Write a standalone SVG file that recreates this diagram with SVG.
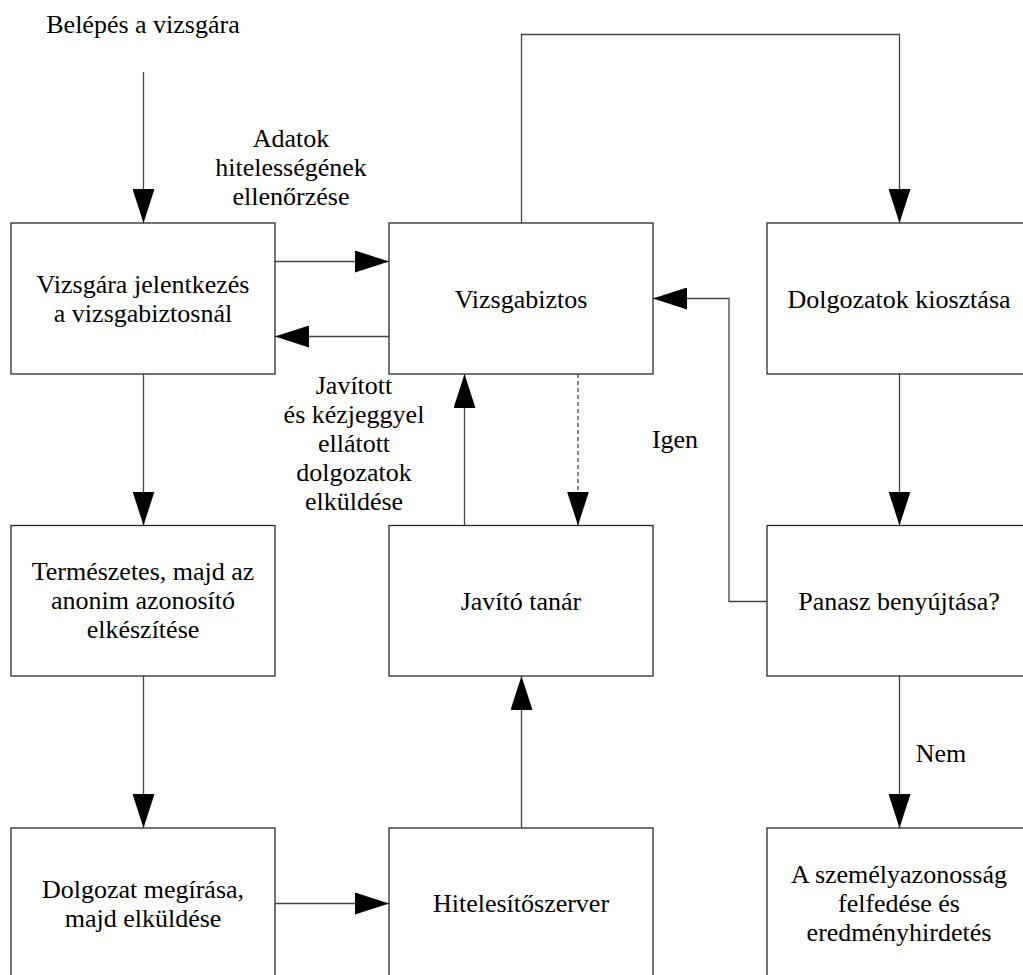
<svg xmlns="http://www.w3.org/2000/svg" width="1023" height="975" viewBox="0 0 1023 975">
  <style>
    .box { fill: #ffffff; stroke: #2a2a2a; stroke-width: 1.3; }
    .lbl { font-family: "Liberation Serif", "Times New Roman", serif; font-size: 26px; fill: #000; text-anchor: middle; }
    .edge { fill: none; stroke: #444; stroke-width: 1.3; marker-end: url(#arrow); }
    .dash { stroke-dasharray: 4 3; }
  </style>
  <defs>
    <marker id="arrow" markerUnits="userSpaceOnUse" markerWidth="34" markerHeight="22" refX="34" refY="11" orient="auto" viewBox="0 0 34 22">
      <path d="M0,0 L34,11 L0,22 Z" fill="#000"/>
    </marker>
  </defs>

  <rect width="1023" height="975" fill="#ffffff"/>

  <!-- connectors -->
  <g id="connectors">
    <line class="edge" x1="143.5" y1="72" x2="143.5" y2="223"/>
    <line class="edge" x1="275" y1="261.5" x2="389" y2="261.5"/>
    <line class="edge" x1="389" y1="336.5" x2="275" y2="336.5"/>
    <line class="edge" x1="143.5" y1="374" x2="143.5" y2="525.5"/>
    <line class="edge" x1="143.5" y1="676" x2="143.5" y2="828"/>
    <line class="edge" x1="275" y1="903.5" x2="389" y2="903.5"/>
    <line class="edge" x1="521.5" y1="828" x2="521.5" y2="676"/>
    <line class="edge" x1="464.5" y1="525.5" x2="464.5" y2="374"/>
    <line class="edge dash" x1="578" y1="374" x2="578" y2="525.5"/>
    <polyline class="edge" points="521.5,223 521.5,34.5 899.5,34.5 899.5,223"/>
    <line class="edge" x1="899.5" y1="374" x2="899.5" y2="525.5"/>
    <polyline class="edge" points="767,601.5 729,601.5 729,298.5 653,298.5"/>
    <line class="edge" x1="899.5" y1="676" x2="899.5" y2="828"/>

    <text class="lbl" x="143" y="33">Belépés a vizsgára</text>
    <text class="lbl" x="291" y="147">Adatok</text>
    <text class="lbl" x="291" y="176">hitelességének</text>
    <text class="lbl" x="291" y="205">ellenőrzése</text>
    <text class="lbl" x="354" y="394">Javított</text>
    <text class="lbl" x="354" y="423">és kézjeggyel</text>
    <text class="lbl" x="354" y="452">ellátott</text>
    <text class="lbl" x="354" y="481">dolgozatok</text>
    <text class="lbl" x="354" y="510">elküldése</text>
    <text class="lbl" x="675" y="448">Igen</text>
    <text class="lbl" x="941" y="762">Nem</text>
  </g>

  <!-- nodes -->
  <g id="n-jelentkezes">
    <rect class="box" x="11" y="223" width="264" height="151"/>
    <text class="lbl" x="143" y="293">Vizsgára jelentkezés</text>
    <text class="lbl" x="143" y="322">a vizsgabiztosnál</text>
  </g>
  <g id="n-vizsgabiztos">
    <rect class="box" x="389" y="223" width="264" height="151"/>
    <text class="lbl" x="521" y="308">Vizsgabiztos</text>
  </g>
  <g id="n-kiosztas">
    <rect class="box" x="767" y="223" width="264" height="151"/>
    <text class="lbl" x="899" y="308">Dolgozatok kiosztása</text>
  </g>
  <g id="n-azonosito">
    <rect class="box" x="11" y="525.5" width="264" height="150.5"/>
    <text class="lbl" x="143" y="580">Természetes, majd az</text>
    <text class="lbl" x="143" y="609">anonim azonosító</text>
    <text class="lbl" x="143" y="638">elkészítése</text>
  </g>
  <g id="n-javito">
    <rect class="box" x="389" y="525.5" width="264" height="150.5"/>
    <text class="lbl" x="521" y="610">Javító tanár</text>
  </g>
  <g id="n-panasz">
    <rect class="box" x="767" y="525.5" width="264" height="150.5"/>
    <text class="lbl" x="899" y="610">Panasz benyújtása?</text>
  </g>
  <g id="n-megiras">
    <rect class="box" x="11" y="828" width="264" height="151"/>
    <text class="lbl" x="143" y="898">Dolgozat megírása,</text>
    <text class="lbl" x="143" y="927">majd elküldése</text>
  </g>
  <g id="n-szerver">
    <rect class="box" x="389" y="828" width="264" height="151"/>
    <text class="lbl" x="521" y="912">Hitelesítőszerver</text>
  </g>
  <g id="n-eredmeny">
    <rect class="box" x="767" y="828" width="264" height="151"/>
    <text class="lbl" x="899" y="883">A személyazonosság</text>
    <text class="lbl" x="899" y="912">felfedése és</text>
    <text class="lbl" x="899" y="941">eredményhirdetés</text>
  </g>
</svg>
